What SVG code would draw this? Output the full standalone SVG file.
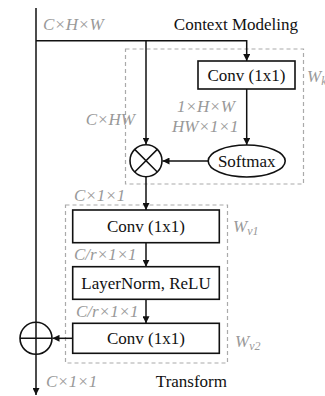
<svg xmlns="http://www.w3.org/2000/svg" width="325" height="396" viewBox="0 0 325 396">
<defs>
<marker id="ah" viewBox="0 0 10 10" refX="10" refY="5" markerWidth="7" markerHeight="7" markerUnits="userSpaceOnUse" orient="auto">
<path d="M0,0 L10,5 L0,10 z" fill="#111"/>
</marker>
<style>
.ln{stroke:#111;stroke-width:1.5;fill:none}
.box{stroke:#111;stroke-width:1.6;fill:#fff}
.dash{stroke:#aaa;stroke-width:1.2;fill:none;stroke-dasharray:4,3}
.t{font-family:"Liberation Serif","Times New Roman",serif;font-size:17px;fill:#111}
.g{font-family:"Liberation Serif","Times New Roman",serif;font-size:17px;fill:#999;font-style:italic}
.s{font-size:12px}
</style>
</defs>
<rect width="325" height="396" fill="#fff"/>
<g id="groups">
<rect class="dash" x="125.5" y="49" width="178" height="135"/>
<rect class="dash" x="65.5" y="205" width="162" height="158"/>
<text class="t" x="298" y="30" text-anchor="end">Context Modeling</text>
<text class="t" x="227" y="387" text-anchor="end">Transform</text>
</g>
<g id="connectors">
<path class="ln" d="M36,8 V322"/>
<path class="ln" d="M36,354 V395" marker-end="url(#ah)"/>
<path class="ln" d="M36,40.7 H246.7 V61" marker-end="url(#ah)"/>
<path class="ln" d="M146,40.7 V144.5" marker-end="url(#ah)"/>
<path class="ln" d="M246.7,89 V145" marker-end="url(#ah)"/>
<path class="ln" d="M208,161 H162.5" marker-end="url(#ah)"/>
<path class="ln" d="M146,177 V210" marker-end="url(#ah)"/>
<path class="ln" d="M146,242.7 V266.7" marker-end="url(#ah)"/>
<path class="ln" d="M146,299.3 V323.3" marker-end="url(#ah)"/>
<path class="ln" d="M72.7,338.3 H52.5" marker-end="url(#ah)"/>
</g>
<g id="labels">
<text class="g" x="43" y="30">C×H×W</text>
<text class="g" x="135" y="125" text-anchor="end">C×HW</text>
<text class="g" x="177" y="112">1×H×W</text>
<text class="g" x="172" y="132">HW×1×1</text>
<text class="g" x="74" y="201">C×1×1</text>
<text class="g" x="74" y="260">C/r×1×1</text>
<text class="g" x="76" y="317">C/r×1×1</text>
<text class="g" x="46" y="387">C×1×1</text>
<text class="g" x="307" y="82">W<tspan class="s" dy="3">k</tspan></text>
<text class="g" x="233" y="232">W<tspan class="s" dy="3">v1</tspan></text>
<text class="g" x="235" y="347">W<tspan class="s" dy="3">v2</tspan></text>
</g>
<g id="conv_k">
<rect class="box" x="198" y="61" width="97" height="28"/>
<text class="t" x="246.5" y="81" text-anchor="middle">Conv (1x1)</text>
</g>
<g id="softmax">
<ellipse class="box" cx="246.7" cy="161" rx="38.5" ry="16"/>
<text class="t" x="246.7" y="167" text-anchor="middle">Softmax</text>
</g>
<g id="mult">
<circle class="box" cx="146" cy="160.7" r="16"/>
<path class="ln" d="M134.7,149.4 L157.3,172 M157.3,149.4 L134.7,172"/>
</g>
<g id="conv_v1">
<rect class="box" x="72.7" y="210" width="146.6" height="32.7"/>
<text class="t" x="146" y="232" text-anchor="middle">Conv (1x1)</text>
</g>
<g id="layernorm">
<rect class="box" x="72.7" y="266.7" width="146.6" height="32.6"/>
<text class="t" x="146" y="289" text-anchor="middle">LayerNorm, ReLU</text>
</g>
<g id="conv_v2">
<rect class="box" x="72.7" y="323.3" width="146.6" height="30"/>
<text class="t" x="146" y="344" text-anchor="middle">Conv (1x1)</text>
</g>
<g id="add">
<circle class="box" cx="36" cy="338.3" r="16"/>
<path class="ln" d="M20,338.3 H52 M36,322.3 V354.3"/>
</g>
</svg>
